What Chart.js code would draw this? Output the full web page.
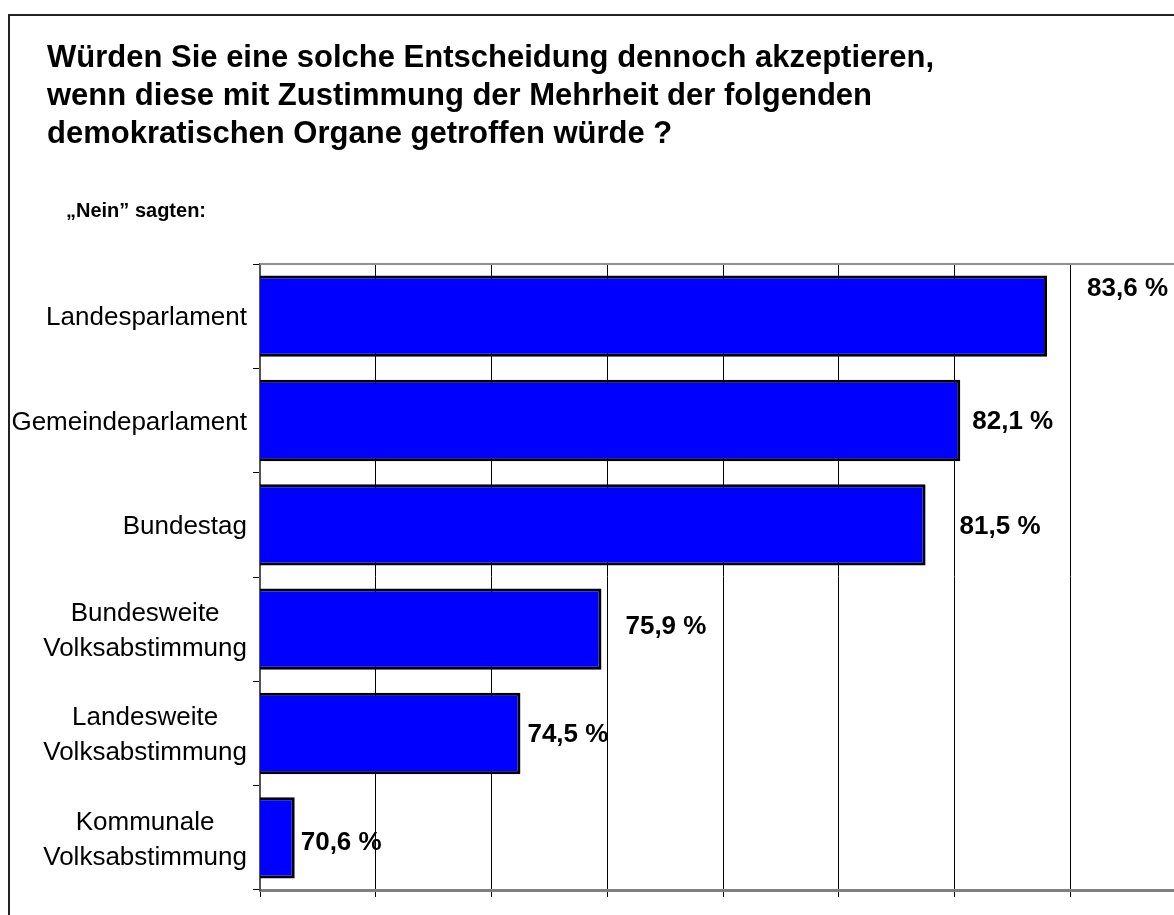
<!DOCTYPE html>
<html>
<head>
<meta charset="utf-8">
<script src="https://cdn.jsdelivr.net/npm/chart.js@4"></script>
<style>
  html, body { margin: 0; padding: 0; background: #fff; overflow: hidden; width: 1174px; height: 915px; }
  #frame { position: absolute; left: 8px; top: 14px; width: 1300px; height: 1000px; border-left: 2px solid #222; border-top: 2px solid #222; }
  #wrap { position: absolute; left: 0; top: 0; width: 1200px; height: 915px; }
</style>
</head>
<body>
<div id="frame"></div>
<div id="wrap"><canvas id="c" width="1200" height="915"></canvas></div>
<script>
const titleLines = [
  "Würden Sie eine solche Entscheidung dennoch akzeptieren,",
  "wenn diese mit Zustimmung der Mehrheit der folgenden",
  "demokratischen Organe getroffen würde ?"
];
const subtitleText = "\u201ENein\u201D sagten:";
const categories = [
  ["Landesparlament"],
  ["Gemeindeparlament"],
  ["Bundestag"],
  ["Bundesweite", "Volksabstimmung"],
  ["Landesweite", "Volksabstimmung"],
  ["Kommunale", "Volksabstimmung"]
];
const values = [83.6, 82.1, 81.5, 75.9, 74.5, 70.6];
const valueLabels = ["83,6 %", "82,1 %", "81,5 %", "75,9 %", "74,5 %", "70,6 %"];
const axisMin = 70, axisMax = 86, axisStep = 2;

const FONT = "'Liberation Sans', Arial, Helvetica, sans-serif";

const textPlugin = {
  id: 'textPlugin',
  afterDraw(chart, args, opts) {
    const ctx = chart.ctx;
    const ca = chart.chartArea;
    const y = chart.scales.y;
    ctx.save();
    // plot top border
    ctx.strokeStyle = '#909090';
    ctx.lineWidth = 2;
    ctx.beginPath();
    ctx.moveTo(ca.left, ca.top);
    ctx.lineTo(ca.right + 20, ca.top);
    ctx.stroke();
    // title
    ctx.fillStyle = '#000';
    ctx.textBaseline = 'middle';
    ctx.textAlign = 'left';
    ctx.font = "bold 31px " + FONT;
    titleLines.forEach((t, i) => ctx.fillText(t, 47, 58 + i * 38));
    ctx.font = "bold 20px " + FONT;
    ctx.fillText(subtitleText, 66, 211);
    // category labels: block right-aligned, lines centered
    ctx.font = "26px " + FONT;
    const rightX = ca.left - 13;
    categories.forEach((lines, i) => {
      const cy = y.getPixelForValue(i);
      const w = Math.max(...lines.map(l => ctx.measureText(l).width));
      const cx = rightX - w / 2;
      ctx.textAlign = 'center';
      const lh = 35;
      lines.forEach((l, j) => {
        ctx.fillText(l, cx, cy + 2 + (j - (lines.length - 1) / 2) * lh);
      });
    });
    // value labels
    ctx.font = "bold 26px " + FONT;
    ctx.textAlign = 'left';
    const meta = chart.getDatasetMeta(0);
    meta.data.forEach((bar, i) => {
      const off = opts.offsets[i];
      ctx.fillText(valueLabels[i], bar.x + off[0], bar.y + off[1]);
    });
    ctx.restore();
  }
};

new Chart(document.getElementById('c'), {
  type: 'bar',
  data: {
    labels: categories,
    datasets: [{
      data: values,
      backgroundColor: '#0000FF',
      borderColor: '#000000',
      borderWidth: 3,
      borderSkipped: false,
      barPercentage: 0.78,
      categoryPercentage: 1.0
    }]
  },
  options: {
    indexAxis: 'y',
    responsive: false,
    animation: false,
    layout: { padding: { left: 0, right: 14, top: 264, bottom: 0 } },
    plugins: {
      legend: { display: false },
      tooltip: { enabled: false },
      textPlugin: { offsets: [[40, -27], [12, 1], [34, 2], [24, -2], [7, 1], [6, 5]] }
    },
    scales: {
      x: {
        min: axisMin, max: axisMax,
        ticks: { stepSize: axisStep, display: false },
        grid: { color: '#000', lineWidth: 1, drawTicks: true, tickLength: 7, tickColor: '#000' },
        border: { color: '#808080', width: 3 },
        afterFit(s) { s.height = 25; }
      },
      y: {
        ticks: { display: false },
        grid: { drawOnChartArea: false, drawTicks: true, tickLength: 7, color: '#000', offset: true },
        border: { color: '#555', width: 2 },
        afterFit(s) { s.width = 260; }
      }
    }
  },
  plugins: [textPlugin]
});
</script>
</body>
</html>
